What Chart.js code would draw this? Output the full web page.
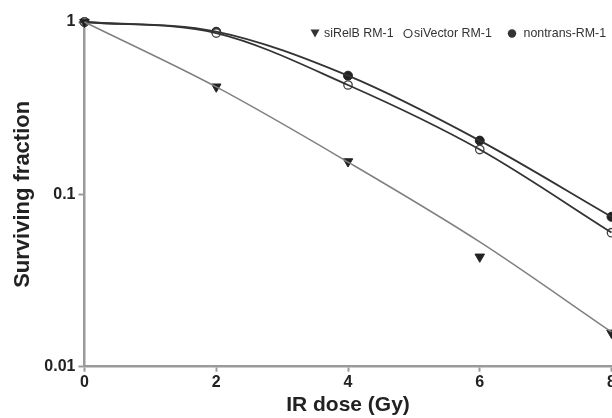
<!DOCTYPE html>
<html>
<head>
<meta charset="utf-8">
<script src="https://cdn.jsdelivr.net/npm/chart.js@4.4.1/dist/chart.umd.min.js"></script>
<style>
  html, body { margin: 0; padding: 0; background: #fff; }
  #wrap { width: 612px; height: 418px; }
</style>
</head>
<body>
<div id="wrap"><canvas id="survChart"></canvas></div>
<script>
// doses (Gy) and surviving fractions
var doses = [0, 2, 4, 6, 8];
var siRelB = [1, 0.421, 0.155, 0.0434, 0.0157];
var siVector = [1, 0.862, 0.431, 0.182, 0.0599];
var nontrans = [1, 0.878, 0.488, 0.205, 0.0741];

// fitted curves as drawn in the figure, read at the same doses
var siRelBFit = [1, 0.42, 0.154, 0.053, 0.0159];
var siVectorFit = [1, 0.862, 0.431, 0.182, 0.0600];
var nontransFit = [1, 0.880, 0.488, 0.205, 0.0741];

var seriesNames = ['siRelB RM-1', 'siVector RM-1', 'nontrans-RM-1'];
var yTickValues = [1, 0.1, 0.01];
var xTickStep = 2;

function pts(ys) {
    return doses.map(function(d, i) { return { x: d, y: ys[i] }; });
}

var axisGrey = '#9a9a9a';
var ink = '#222';
var fontFam = '"Liberation Sans", Arial, sans-serif';

// legend drawn inside the plot, top right, like the original figure
var insideLegend = {
    id: 'insideLegend',
    afterDraw: function(chart) {
        var ctx = chart.ctx;
        var y = 33.5;
        var items = [
            { mark: 'tri', mx: 315, tx: 324 },
            { mark: 'open', mx: 408, tx: 414 },
            { mark: 'dot', mx: 512, tx: 523.5 }
        ];
        ctx.save();
        ctx.font = '12.4px ' + fontFam;
        ctx.textBaseline = 'middle';
        ctx.fillStyle = '#333';
        ctx.strokeStyle = '#333';
        items.forEach(function(it, i) {
            ctx.beginPath();
            if (it.mark === 'tri') {
                ctx.moveTo(it.mx - 4.5, y - 4);
                ctx.lineTo(it.mx + 4.5, y - 4);
                ctx.lineTo(it.mx, y + 4);
                ctx.closePath();
                ctx.fill();
            } else if (it.mark === 'open') {
                ctx.lineWidth = 1.2;
                ctx.arc(it.mx, y, 4, 0, Math.PI * 2);
                ctx.stroke();
            } else {
                ctx.arc(it.mx, y, 4.2, 0, Math.PI * 2);
                ctx.fill();
            }
            ctx.fillText(seriesNames[i], it.tx, y + 0.5);
        });
        ctx.restore();
    }
};

document.addEventListener('DOMContentLoaded', function() {
    var ctx = document.getElementById('survChart').getContext('2d');
    var chart = new Chart(ctx, {
        type: 'line',
        data: {
            datasets: [
                {
                    label: 'siRelB fit',
                    data: pts(siRelBFit),
                    borderColor: '#808080',
                    borderWidth: 1.5,
                    pointRadius: 0,
                    cubicInterpolationMode: 'monotone',
                    clip: false
                },
                {
                    label: 'siVector fit',
                    data: pts(siVectorFit),
                    borderColor: '#333',
                    borderWidth: 1.8,
                    pointRadius: 0,
                    cubicInterpolationMode: 'monotone',
                    clip: false
                },
                {
                    label: 'nontrans fit',
                    data: pts(nontransFit),
                    borderColor: '#333',
                    borderWidth: 1.8,
                    pointRadius: 0,
                    cubicInterpolationMode: 'monotone',
                    clip: false
                },
                {
                    label: seriesNames[0],
                    data: pts(siRelB),
                    showLine: false,
                    pointStyle: 'triangle',
                    rotation: 180,
                    pointRadius: 5.5,
                    pointBackgroundColor: ink,
                    pointBorderColor: ink,
                    pointBorderWidth: 1,
                    clip: false
                },
                {
                    label: seriesNames[1],
                    data: pts(siVector),
                    showLine: false,
                    pointStyle: 'circle',
                    pointRadius: 4.2,
                    pointBackgroundColor: '#fff',
                    pointBorderColor: '#444',
                    pointBorderWidth: 1.3,
                    clip: false
                },
                {
                    label: seriesNames[2],
                    data: pts(nontrans),
                    showLine: false,
                    pointStyle: 'circle',
                    pointRadius: 4.5,
                    pointBackgroundColor: ink,
                    pointBorderColor: ink,
                    pointBorderWidth: 1,
                    clip: false
                }
            ]
        },
        options: {
            responsive: true,
            maintainAspectRatio: false,
            animation: false,
            layout: { autoPadding: false, padding: { top: 22, right: 0.5, bottom: 0, left: 6 } },
            plugins: {
                legend: { display: false },
                tooltip: { enabled: false }
            },
            scales: {
                x: {
                    type: 'linear',
                    min: 0,
                    max: 8,
                    ticks: {
                        stepSize: xTickStep,
                        color: ink,
                        padding: 1,
                        font: { family: fontFam, size: 16, weight: 'bold' }
                    },
                    grid: {
                        drawOnChartArea: false,
                        color: axisGrey,
                        tickLength: 5,
                        tickWidth: 2
                    },
                    border: { color: axisGrey, width: 2.5 },
                    title: {
                        display: true,
                        text: 'IR dose (Gy)',
                        color: ink,
                        padding: { top: 0, bottom: 0 },
                        font: { family: fontFam, size: 21, weight: 'bold' }
                    },
                    afterFit: function(scale) {
                        scale.height = 51.3;
                        scale.paddingLeft = 0;
                        scale.paddingRight = 0;
                    }
                },
                y: {
                    type: 'logarithmic',
                    min: 0.01,
                    max: 1,
                    afterBuildTicks: function(scale) {
                        scale.ticks = yTickValues.map(function(v) { return { value: v, major: true }; });
                    },
                    ticks: {
                        color: ink,
                        padding: 3,
                        callback: function(v) { return String(v); },
                        font: { family: fontFam, size: 16, weight: 'bold' }
                    },
                    grid: {
                        drawOnChartArea: false,
                        color: axisGrey,
                        tickLength: 6,
                        tickWidth: 2
                    },
                    border: { color: axisGrey, width: 2.5 },
                    title: {
                        display: true,
                        text: 'Surviving fraction',
                        color: ink,
                        padding: { top: 4, bottom: 0 },
                        font: { family: fontFam, size: 22, weight: 'bold' }
                    },
                    afterFit: function(scale) {
                        scale.width = 78.5;
                        scale.paddingTop = 0;
                        scale.paddingBottom = 0;
                    }
                }
            }
        },
        plugins: [insideLegend]
    });
});
</script>
</body>
</html>
